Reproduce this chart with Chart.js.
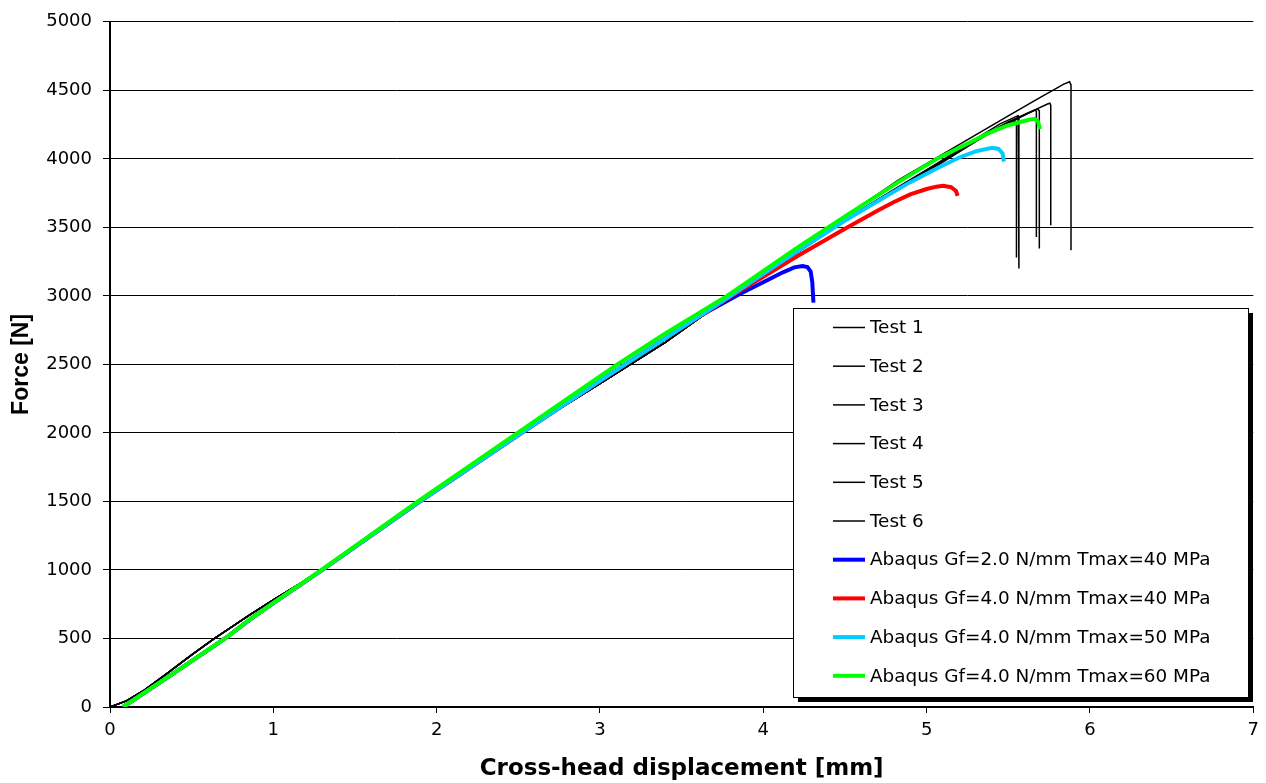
<!DOCTYPE html>
<html>
<head>
<meta charset="utf-8">
<script src="https://cdn.jsdelivr.net/npm/chart.js@4.4.1/dist/chart.umd.min.js"></script>
<style>
  body { margin: 0; background: #fff; }
</style>
</head>
<body>
<canvas id="forceChart" width="1266" height="783"></canvas>
<script>
// valores: [desplazamiento mm, fuerza N]
const xTicks = [0, 1, 2, 3, 4, 5, 6, 7];
const yTicks = [0, 500, 1000, 1500, 2000, 2500, 3000, 3500, 4000, 4500, 5000];

const testLower = [[0, 0], [0.1, 45], [0.2, 115], [0.35, 245], [0.5, 380], [0.64, 500], [0.86, 675], [1.0, 782], [1.31, 1008], [1.6, 1250], [1.9, 1500], [2.5, 1990], [3.0, 2360], [3.4, 2660], [3.8, 3000], [4.2, 3310]];
const test1Tail = [[4.6, 3660], [4.826, 3845], [5.07, 4015], [5.23, 4126], [5.5, 4313], [5.68, 4438], [5.84, 4545], [5.875, 4562], [5.884, 4540], [5.884, 3333]];
const test2Tail = [[4.6, 3630], [5.07, 3968], [5.3, 4140], [5.5, 4270], [5.65, 4350], [5.74, 4400], [5.755, 4406], [5.76, 4390], [5.76, 3515]];
const test3Tail = [[4.6, 3628], [5.07, 3965], [5.3, 4135], [5.5, 4265], [5.62, 4335], [5.68, 4363], [5.69, 4350], [5.69, 3345]];
const test4Tail = [[4.6, 3625], [5.07, 3960], [5.3, 4130], [5.5, 4260], [5.62, 4330], [5.665, 4358], [5.672, 4345], [5.672, 3430]];
const test5Tail = [[4.6, 3632], [5.07, 3970], [5.3, 4145], [5.45, 4255], [5.55, 4310], [5.56, 4314], [5.565, 4300], [5.565, 3200]];
const test6Tail = [[4.6, 3622], [5.07, 3955], [5.3, 4125], [5.45, 4230], [5.53, 4270], [5.545, 4275], [5.55, 4260], [5.55, 3280]];

const simLower = [[0.08, 0], [0.4, 255], [0.705, 500], [0.858, 640], [1.0, 758], [1.295, 997], [1.885, 1490], [2.5, 1985], [3.0, 2380], [3.4, 2690]];
const blueTail = [[3.6, 2845], [3.85, 3010], [4.03, 3118], [4.12, 3172], [4.19, 3208], [4.24, 3218], [4.27, 3210], [4.29, 3178], [4.3, 3100], [4.307, 2950]];
const redTail = [[3.8, 2995], [4.0, 3140], [4.215, 3295], [4.5, 3490], [4.704, 3624], [4.8, 3685], [4.9, 3740], [5.0, 3780], [5.06, 3797], [5.1, 3803], [5.15, 3793], [5.18, 3765], [5.19, 3730]];
const cyanTail = [[3.8, 3000], [4.0, 3160], [4.215, 3330], [4.5, 3550], [4.7, 3690], [4.9, 3830], [5.07, 3935], [5.2, 4010], [5.3, 4055], [5.4, 4080], [5.44, 4072], [5.465, 4040], [5.473, 3980]];
const green = [[0.08, 0], [0.4, 255], [0.705, 500], [0.858, 642], [1.0, 760], [1.295, 1000], [1.885, 1500], [2.5, 2004], [3.106, 2500], [3.4, 2725], [3.778, 3000], [4.215, 3357], [4.5, 3580], [4.826, 3830], [5.07, 4005], [5.233, 4100], [5.38, 4188], [5.5, 4245], [5.62, 4283], [5.66, 4292], [5.68, 4278], [5.695, 4217]];

const toXY = (pts) => pts.map((p) => ({ x: p[0], y: p[1] }));

function serie(label, pts, color, width, order) {
    return {
        label: label,
        data: toXY(pts),
        borderColor: color,
        backgroundColor: color,
        borderWidth: width,
        pointRadius: 0,
        tension: 0,
        order: order,
    };
}

const datasets = [
    serie("Test 1", testLower.concat(test1Tail), "#000000", 1.5, 10),
    serie("Test 2", testLower.concat(test2Tail), "#000000", 1.5, 10),
    serie("Test 3", testLower.concat(test3Tail), "#000000", 1.5, 10),
    serie("Test 4", testLower.concat(test4Tail), "#000000", 1.5, 10),
    serie("Test 5", testLower.concat(test5Tail), "#000000", 1.5, 10),
    serie("Test 6", testLower.concat(test6Tail), "#000000", 1.5, 10),
    serie("Abaqus Gf=2.0 N/mm Tmax=40 MPa", simLower.concat(blueTail), "#0000ff", 4, 4),
    serie("Abaqus Gf=4.0 N/mm Tmax=40 MPa", simLower.concat(redTail), "#ff0000", 4, 3),
    serie("Abaqus Gf=4.0 N/mm Tmax=50 MPa", simLower.concat(cyanTail), "#00ccff", 4, 2),
    serie("Abaqus Gf=4.0 N/mm Tmax=60 MPa", green, "#00ff00", 4, 1),
];

// leyenda dibujada dentro del area, con sombra
const boxLegend = {
    id: "boxLegend",
    afterDraw(chart) {
        const ctx = chart.ctx;
        const x0 = 793, y0 = 308, w = 455, h = 389;
        ctx.save();
        ctx.fillStyle = "#000";
        ctx.fillRect(x0 + 5, y0 + 5, w, h);
        ctx.fillStyle = "#fff";
        ctx.fillRect(x0, y0, w, h);
        ctx.strokeStyle = "#000";
        ctx.lineWidth = 1;
        ctx.strokeRect(x0 + 0.5, y0 + 0.5, w, h);
        ctx.font = "18.4px 'DejaVu Sans'";
        ctx.textBaseline = "middle";
        ctx.textAlign = "left";
        chart.data.datasets.forEach((ds, i) => {
            const y = 327.5 + i * 38.7;
            ctx.strokeStyle = ds.borderColor;
            ctx.lineWidth = ds.borderWidth;
            ctx.beginPath();
            ctx.moveTo(833, y);
            ctx.lineTo(865, y);
            ctx.stroke();
            ctx.fillStyle = "#000";
            ctx.fillText(ds.label, 870, y + 1);
        });
        ctx.restore();
    },
};

new Chart(document.getElementById("forceChart"), {
    type: "line",
    data: { datasets: datasets },
    plugins: [boxLegend],
    options: {
        responsive: false,
        animation: false,
        layout: { padding: { left: 0, top: 19, right: 8, bottom: 0 } },
        plugins: {
            legend: { display: false },
            tooltip: { enabled: false },
        },
        scales: {
            x: {
                type: "linear",
                min: 0,
                max: 7,
                afterBuildTicks: (scale) => { scale.ticks = xTicks.map((v) => ({ value: v })); },
                afterFit: (scale) => { scale.height = 76; },
                grid: { drawOnChartArea: false, drawTicks: true, tickLength: 6, color: "#000" },
                border: { color: "#000", width: 2 },
                ticks: { color: "#000", padding: 7, font: { family: "DejaVu Sans", size: 18 }, callback: (v) => String(v) },
                title: {
                    display: true,
                    text: "Cross-head displacement [mm]",
                    color: "#000",
                    padding: { top: 0, bottom: 0 },
                    font: { family: "DejaVu Sans", size: 23, weight: "bold" },
                },
            },
            y: {
                min: 0,
                max: 5000,
                afterBuildTicks: (scale) => { scale.ticks = yTicks.map((v) => ({ value: v })); },
                afterFit: (scale) => { scale.width = 110; },
                grid: { color: "#000", lineWidth: 1, drawTicks: true, tickLength: 7 },
                border: { color: "#000", width: 2 },
                ticks: { color: "#000", padding: 11, font: { family: "DejaVu Sans", size: 18 }, callback: (v) => String(v) },
                title: {
                    display: true,
                    text: "Force [N]",
                    color: "#000",
                    padding: { top: 8, bottom: 0 },
                    font: { family: "Liberation Sans", size: 23, weight: "bold" },
                },
            },
        },
    },
});
</script>
</body>
</html>
